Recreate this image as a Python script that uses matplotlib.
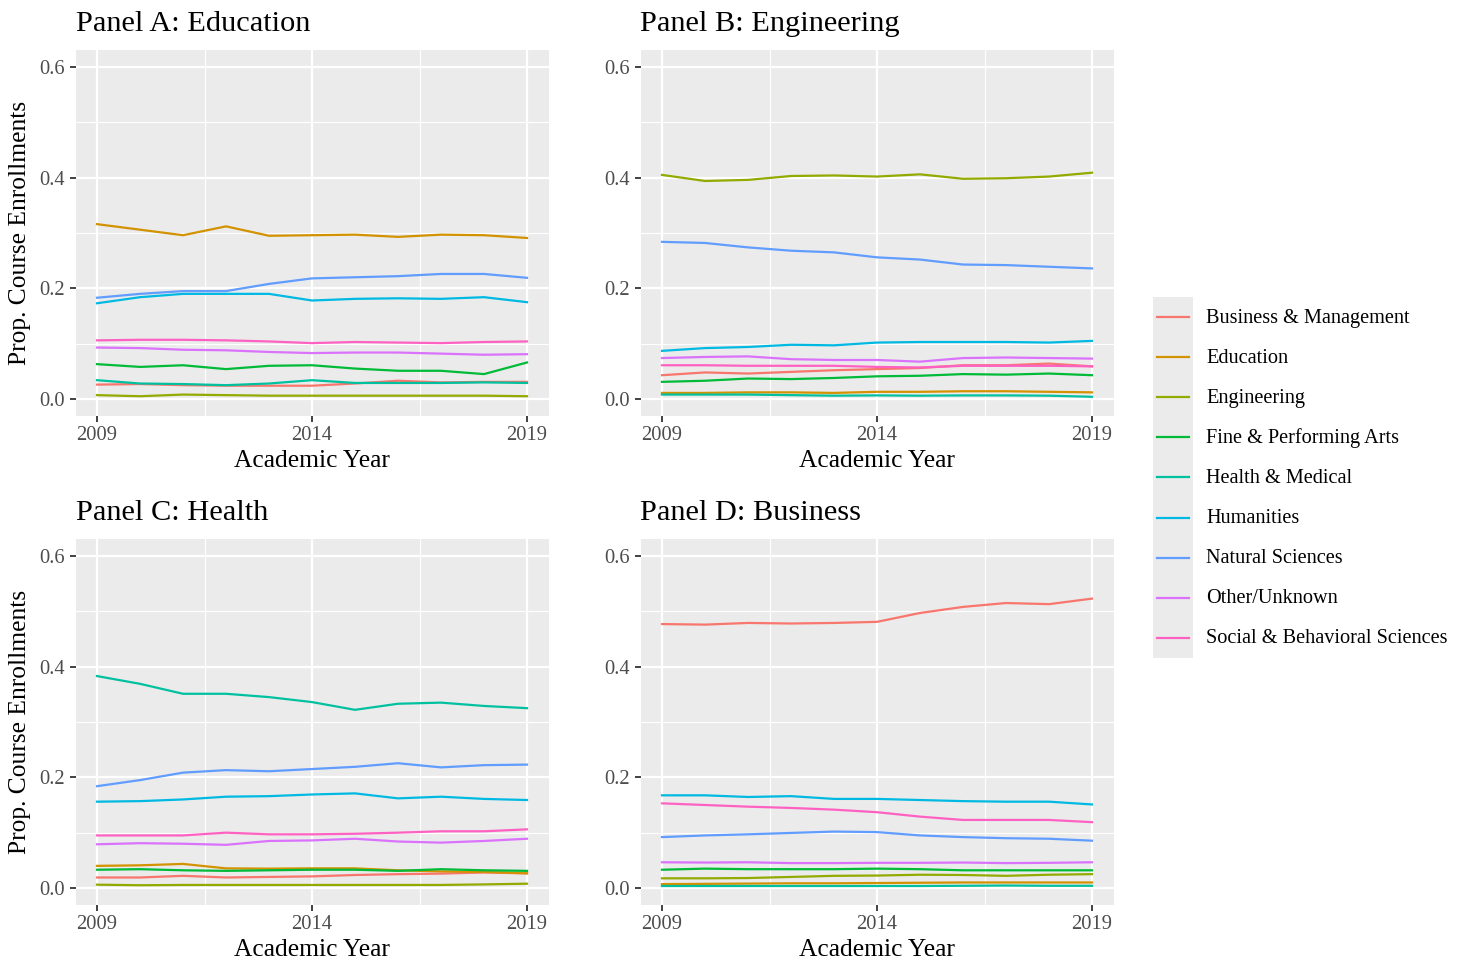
import matplotlib
matplotlib.use('Agg')
import matplotlib.pyplot as plt
from matplotlib.patches import Rectangle

plt.rcParams['font.family'] = ['Liberation Serif', 'DejaVu Serif']

# Academic years and fields
years = list(range(2009, 2020))
fields = ['Business & Management', 'Education', 'Engineering', 'Fine & Performing Arts',
          'Health & Medical', 'Humanities', 'Natural Sciences', 'Other/Unknown',
          'Social & Behavioral Sciences']
colors = ['#F8766D', '#D39200', '#93AA00', '#00BA38', '#00C19F',
          '#00B9E3', '#619CFF', '#DB72FB', '#FF61C3']

# Panel A: Education majors
panel_a = {
    'Business & Management': [0.026, 0.027, 0.025, 0.024, 0.024, 0.024, 0.028, 0.033, 0.030, 0.031, 0.031],
    'Education': [0.316, 0.306, 0.296, 0.312, 0.295, 0.296, 0.297, 0.293, 0.297, 0.296, 0.291],
    'Engineering': [0.007, 0.005, 0.008, 0.007, 0.006, 0.006, 0.006, 0.006, 0.006, 0.006, 0.005],
    'Fine & Performing Arts': [0.063, 0.058, 0.061, 0.054, 0.060, 0.061, 0.055, 0.051, 0.051, 0.045, 0.066],
    'Health & Medical': [0.034, 0.028, 0.027, 0.025, 0.028, 0.034, 0.029, 0.029, 0.029, 0.030, 0.029],
    'Humanities': [0.173, 0.184, 0.190, 0.190, 0.190, 0.178, 0.181, 0.182, 0.181, 0.184, 0.175],
    'Natural Sciences': [0.183, 0.190, 0.195, 0.195, 0.208, 0.218, 0.220, 0.222, 0.226, 0.226, 0.219],
    'Other/Unknown': [0.093, 0.092, 0.089, 0.088, 0.085, 0.083, 0.084, 0.084, 0.082, 0.080, 0.081],
    'Social & Behavioral Sciences': [0.106, 0.107, 0.107, 0.106, 0.104, 0.101, 0.103, 0.102, 0.101, 0.103, 0.104],
}

# Panel B: Engineering majors
panel_b = {
    'Business & Management': [0.043, 0.048, 0.046, 0.049, 0.052, 0.054, 0.056, 0.061, 0.061, 0.064, 0.059],
    'Education': [0.011, 0.011, 0.012, 0.012, 0.011, 0.013, 0.013, 0.014, 0.014, 0.013, 0.012],
    'Engineering': [0.405, 0.394, 0.396, 0.403, 0.404, 0.402, 0.406, 0.398, 0.399, 0.402, 0.409],
    'Fine & Performing Arts': [0.031, 0.033, 0.037, 0.036, 0.038, 0.041, 0.042, 0.045, 0.044, 0.046, 0.043],
    'Health & Medical': [0.008, 0.008, 0.008, 0.007, 0.006, 0.0065, 0.006, 0.0065, 0.0065, 0.006, 0.004],
    'Humanities': [0.087, 0.092, 0.094, 0.098, 0.097, 0.102, 0.103, 0.103, 0.103, 0.102, 0.105],
    'Natural Sciences': [0.284, 0.282, 0.274, 0.268, 0.265, 0.256, 0.252, 0.243, 0.242, 0.239, 0.236],
    'Other/Unknown': [0.074, 0.076, 0.077, 0.072, 0.0705, 0.0705, 0.0675, 0.074, 0.075, 0.074, 0.073],
    'Social & Behavioral Sciences': [0.061, 0.061, 0.060, 0.060, 0.060, 0.058, 0.057, 0.060, 0.060, 0.060, 0.059],
}

# Panel C: Health majors
panel_c = {
    'Business & Management': [0.019, 0.019, 0.022, 0.019, 0.020, 0.021, 0.0235, 0.025, 0.026, 0.028, 0.0265],
    'Education': [0.040, 0.041, 0.0435, 0.0355, 0.035, 0.0355, 0.0355, 0.032, 0.030, 0.029, 0.0265],
    'Engineering': [0.006, 0.005, 0.0055, 0.0055, 0.0055, 0.0055, 0.0055, 0.0055, 0.0055, 0.0065, 0.0078],
    'Fine & Performing Arts': [0.033, 0.034, 0.032, 0.031, 0.032, 0.033, 0.033, 0.031, 0.034, 0.032, 0.031],
    'Health & Medical': [0.383, 0.369, 0.351, 0.351, 0.345, 0.336, 0.322, 0.333, 0.335, 0.329, 0.325],
    'Humanities': [0.156, 0.157, 0.160, 0.165, 0.166, 0.169, 0.171, 0.162, 0.165, 0.161, 0.159],
    'Natural Sciences': [0.184, 0.195, 0.2085, 0.213, 0.211, 0.215, 0.219, 0.2255, 0.218, 0.222, 0.223],
    'Other/Unknown': [0.079, 0.081, 0.080, 0.078, 0.085, 0.086, 0.089, 0.084, 0.082, 0.085, 0.089],
    'Social & Behavioral Sciences': [0.095, 0.095, 0.095, 0.100, 0.097, 0.097, 0.098, 0.100, 0.1025, 0.1025, 0.106],
}

# Panel D: Business majors
panel_d = {
    'Business & Management': [0.477, 0.476, 0.479, 0.478, 0.479, 0.481, 0.497, 0.508, 0.515, 0.513, 0.523],
    'Education': [0.007, 0.0075, 0.008, 0.0085, 0.0085, 0.009, 0.0095, 0.010, 0.010, 0.010, 0.010],
    'Engineering': [0.0175, 0.0175, 0.018, 0.020, 0.022, 0.0225, 0.024, 0.0235, 0.022, 0.024, 0.025],
    'Fine & Performing Arts': [0.033, 0.035, 0.034, 0.034, 0.034, 0.035, 0.034, 0.032, 0.032, 0.032, 0.032],
    'Health & Medical': [0.0036, 0.0036, 0.0036, 0.0036, 0.0036, 0.0036, 0.0036, 0.004, 0.0045, 0.004, 0.004],
    'Humanities': [0.1675, 0.1675, 0.1645, 0.166, 0.161, 0.161, 0.159, 0.157, 0.156, 0.156, 0.151],
    'Natural Sciences': [0.092, 0.095, 0.097, 0.0995, 0.102, 0.101, 0.095, 0.092, 0.090, 0.089, 0.0855],
    'Other/Unknown': [0.0465, 0.046, 0.0465, 0.045, 0.045, 0.0455, 0.0455, 0.046, 0.045, 0.0455, 0.0465],
    'Social & Behavioral Sciences': [0.153, 0.150, 0.147, 0.1447, 0.1416, 0.137, 0.129, 0.123, 0.123, 0.123, 0.119],
}

panels = [('Panel A: Education', panel_a), ('Panel B: Engineering', panel_b),
          ('Panel C: Health', panel_c), ('Panel D: Business', panel_d)]

W, H = 1466, 967
fig = plt.figure(figsize=(W / 100, H / 100), dpi=100)

# panel boxes in pixels: left, top
boxes = [(75.5, 50.4), (640.5, 50.4), (75.5, 539.4), (640.5, 539.4)]
pw, ph = 473, 365.2

for i, (title, data) in enumerate(panels):
    left, top = boxes[i]
    ax = fig.add_axes([left / W, (H - top - ph) / H, pw / W, ph / H])
    ax.set_facecolor('#EBEBEB')
    for s in ax.spines.values():
        s.set_visible(False)
    ax.set_xlim(2008.5, 2019.5)
    ax.set_ylim(-0.03, 0.63)
    ax.set_xticks([2009, 2014, 2019])
    ax.set_yticks([0.0, 0.2, 0.4, 0.6])
    ax.set_yticklabels(['0.0', '0.2', '0.4', '0.6'])
    ax.set_xticks([2011.5, 2016.5], minor=True)
    ax.set_yticks([0.1, 0.3, 0.5], minor=True)
    ax.grid(which='major', color='white', lw=1.6)
    ax.grid(which='minor', color='white', lw=0.8)
    ax.set_axisbelow(True)
    ax.tick_params(which='major', length=4.3, width=1.3, color='#333333',
                   labelcolor='#4D4D4D', labelsize=14.8)
    ax.tick_params(axis='x', which='major', pad=3.5)
    ax.tick_params(axis='y', which='major', pad=3)
    ax.tick_params(which='minor', length=0)
    for name, col in zip(fields, colors):
        ax.plot(years, data[name], color=col, lw=1.6)
    ax.set_title(title, loc='left', fontsize=21.9, pad=14, x=0.0)
    ax.set_xlabel('Academic Year', fontsize=18.4, labelpad=3.5)
    if i % 2 == 0:
        ax.set_ylabel('Prop. Course Enrollments', fontsize=18.4, labelpad=6)

# legend drawn by hand, ggplot style
lx, ly, lw_, lh = 1153, 297, 40, 361
leg = fig.add_axes([0, 0, 1, 1], facecolor='none')
leg.set_xlim(0, W)
leg.set_ylim(H, 0)
leg.axis('off')
leg.add_patch(Rectangle((lx, ly), lw_, lh, facecolor='#EBEBEB', edgecolor='none'))
for k, (name, col) in enumerate(zip(fields, colors)):
    yk = 317 + k * 40.1
    leg.plot([lx + 4, lx + 36], [yk, yk], color=col, lw=1.6)
    leg.text(1206, yk + 1, name, fontsize=14.6, va='center', ha='left')

fig.savefig('out.png', dpi=100)
